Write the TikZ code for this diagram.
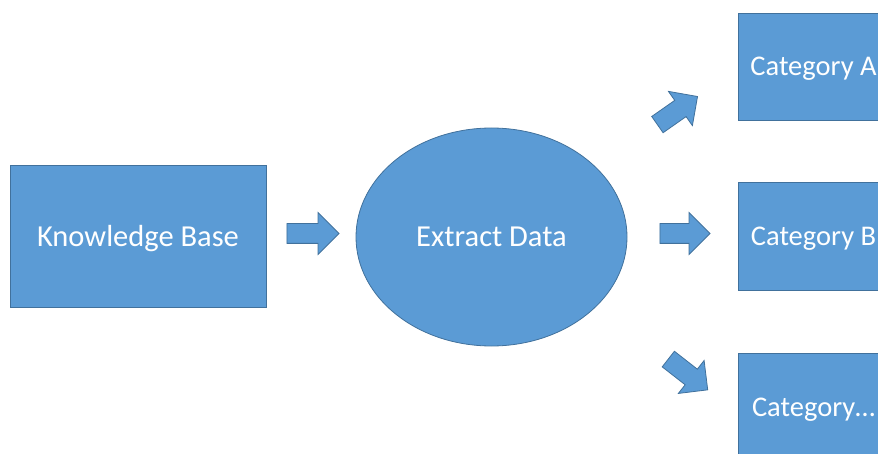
\documentclass[tikz,border=0pt]{standalone}
\usepackage{fontspec}
\setmainfont{Carlito}
\usetikzlibrary{shapes.geometric,shapes.arrows}
\definecolor{boxblue}{HTML}{5B9BD5}
\definecolor{boxedge}{HTML}{41719C}
\tikzset{
  block/.style={draw=boxedge, fill=boxblue, text=white, line width=0.8pt,
    text depth=0pt, font=\fontsize{28.5}{34}\selectfont},
  bigtext/.style={font=\fontsize{30.5}{36}\selectfont},
  blockarrow/.style={single arrow, draw=boxedge, fill=boxblue, line width=0.8pt,
    minimum height=#1, inner xsep=0pt, inner ysep=9.5pt,
    single arrow head extend=11pt, single arrow head indent=0pt}
}
\begin{document}
\begin{tikzpicture}[x=1pt,y=-1pt]
  \useasboundingbox (0,0) rectangle (878,454);
  \clip (0,0) rectangle (878,454);
  % boxes
  \node[block, bigtext, rectangle, minimum width=256pt, minimum height=142pt] (kb) at (138,236) {Knowledge Base};
  \node[block, bigtext, ellipse, minimum width=271pt, minimum height=218pt] (extract) at (491.5,237) {Extract Data};
  \node[block, rectangle, minimum width=151pt, minimum height=107pt] (cata) at (813.5,66.5) {Category A};
  \node[block, rectangle, minimum width=151pt, minimum height=108pt] (catb) at (813.5,236) {Category B};
  \node[block, rectangle, minimum width=151pt, minimum height=108pt] (catn) at (813.5,407) {Category\ldots};
  % block arrows
  \node[blockarrow=52pt] (tokb) at (308,233.5) {};
  \node[blockarrow=49pt, rotate=35] (toa) at (673.4,113.4) {};
  \node[blockarrow=50pt] (tob) at (680,233.5) {};
  \node[blockarrow=50pt, rotate=-38] (ton) at (684.1,371.4) {};
\end{tikzpicture}
\end{document}
